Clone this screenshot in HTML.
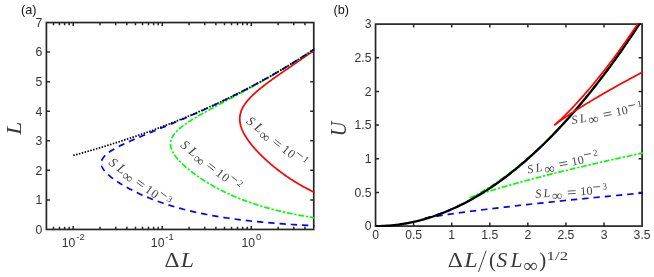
<!DOCTYPE html>
<html><head><meta charset="utf-8"><title>chart</title>
<style>html,body{margin:0;padding:0;background:#fff;}svg{display:block;will-change:transform;}</style></head>
<body><svg width="654" height="277" viewBox="0 0 654 277">
<rect width="654" height="277" fill="#fff"/>
<defs><clipPath id="ca"><rect x="45.55" y="21.7" width="269.05" height="208.59999999999997"/></clipPath><clipPath id="cb"><rect x="374.7" y="23.25" width="268.25" height="203.7"/></clipPath></defs>
<path d="M53.49,229.45v-2.60 M53.49,22.55v2.60 M59.45,229.45v-2.60 M59.45,22.55v2.60 M64.61,229.45v-2.60 M64.61,22.55v2.60 M69.17,229.45v-2.60 M69.17,22.55v2.60 M73.24,229.45v-3.50 M73.24,22.55v3.50 M100.04,229.45v-2.60 M100.04,22.55v2.60 M115.72,229.45v-2.60 M115.72,22.55v2.60 M126.84,229.45v-2.60 M126.84,22.55v2.60 M135.47,229.45v-2.60 M135.47,22.55v2.60 M142.52,229.45v-2.60 M142.52,22.55v2.60 M148.48,229.45v-2.60 M148.48,22.55v2.60 M153.64,229.45v-2.60 M153.64,22.55v2.60 M158.20,229.45v-2.60 M158.20,22.55v2.60 M162.27,229.45v-3.50 M162.27,22.55v3.50 M189.07,229.45v-2.60 M189.07,22.55v2.60 M204.75,229.45v-2.60 M204.75,22.55v2.60 M215.87,229.45v-2.60 M215.87,22.55v2.60 M224.50,229.45v-2.60 M224.50,22.55v2.60 M231.55,229.45v-2.60 M231.55,22.55v2.60 M237.51,229.45v-2.60 M237.51,22.55v2.60 M242.67,229.45v-2.60 M242.67,22.55v2.60 M247.23,229.45v-2.60 M247.23,22.55v2.60 M251.30,229.45v-3.50 M251.30,22.55v3.50 M278.10,229.45v-2.60 M278.10,22.55v2.60 M293.78,229.45v-2.60 M293.78,22.55v2.60 M304.90,229.45v-2.60 M304.90,22.55v2.60 M46.40,199.89h3.50 M313.75,199.89h-3.50 M46.40,170.34h3.50 M313.75,170.34h-3.50 M46.40,140.78h3.50 M313.75,140.78h-3.50 M46.40,111.22h3.50 M313.75,111.22h-3.50 M46.40,81.66h3.50 M313.75,81.66h-3.50 M46.40,52.11h3.50 M313.75,52.11h-3.50 M413.63,226.10v-3.50 M413.63,24.10v3.50 M451.71,226.10v-3.50 M451.71,24.10v3.50 M489.79,226.10v-3.50 M489.79,24.10v3.50 M527.86,226.10v-3.50 M527.86,24.10v3.50 M565.94,226.10v-3.50 M565.94,24.10v3.50 M604.02,226.10v-3.50 M604.02,24.10v3.50 M375.55,192.43h3.50 M642.10,192.43h-3.50 M375.55,158.77h3.50 M642.10,158.77h-3.50 M375.55,125.10h3.50 M642.10,125.10h-3.50 M375.55,91.43h3.50 M642.10,91.43h-3.50 M375.55,57.77h3.50 M642.10,57.77h-3.50" stroke="#262626" stroke-width="1.5" fill="none"/>
<rect x="46.4" y="22.55" width="267.35" height="206.89999999999998" fill="none" stroke="#262626" stroke-width="1.7"/>
<rect x="375.55" y="24.1" width="266.55" height="202.0" fill="none" stroke="#262626" stroke-width="1.7"/>
<g clip-path="url(#ca)" fill="none" stroke-width="1.7">
<path d="M331.01,38.30 L330.07,38.98 L329.13,39.67 L328.18,40.35 L327.23,41.04 L326.28,41.72 L325.33,42.41 L324.38,43.09 L323.42,43.78 L322.46,44.46 L321.50,45.15 L320.54,45.83 L319.57,46.52 L318.61,47.20 L317.64,47.88 L316.67,48.57 L315.69,49.25 L314.72,49.94 L313.74,50.62 L312.76,51.31 L311.78,51.99 L310.80,52.68 L309.82,53.36 L308.83,54.05 L307.84,54.73 L306.85,55.42 L305.86,56.10 L304.87,56.79 L303.88,57.47 L302.89,58.16 L301.89,58.84 L300.90,59.52 L299.90,60.21 L298.90,60.89 L297.91,61.58 L296.91,62.26 L295.91,62.95 L294.91,63.63 L293.91,64.32 L292.92,65.00 L291.92,65.69 L290.92,66.37 L289.92,67.06 L288.93,67.74 L287.93,68.43 L286.94,69.11 L285.94,69.80 L284.95,70.48 L283.96,71.17 L282.97,71.85 L281.99,72.53 L281.00,73.22 L280.02,73.90 L279.04,74.59 L278.07,75.27 L277.10,75.96 L276.13,76.64 L275.17,77.33 L274.21,78.01 L273.25,78.70 L272.31,79.38 L271.36,80.07 L270.42,80.75 L269.49,81.44 L268.57,82.12 L267.65,82.81 L266.74,83.49 L265.83,84.17 L264.94,84.86 L264.05,85.54 L263.17,86.23 L262.30,86.91 L261.44,87.60 L260.59,88.28 L259.75,88.97 L258.93,89.65 L258.11,90.34 L257.31,91.02 L256.52,91.71 L255.74,92.39 L254.97,93.08 L254.22,93.76 L253.49,94.45 L252.77,95.13 L252.06,95.82 L251.37,96.50 L250.70,97.18 L250.04,97.87 L249.41,98.55 L248.78,99.24 L248.18,99.92 L247.60,100.61 L247.03,101.29 L246.48,101.98 L245.96,102.66 L245.45,103.35 L244.97,104.03 L244.50,104.72 L244.06,105.40 L243.63,106.09 L243.23,106.77 L242.85,107.46 L242.49,108.14 L242.16,108.82 L241.84,109.51 L241.55,110.19 L241.28,110.88 L241.03,111.56 L240.81,112.25 L240.60,112.93 L240.42,113.62 L240.26,114.30 L240.13,114.99 L240.01,115.67 L239.92,116.36 L239.85,117.04 L239.80,117.73 L239.77,118.41 L239.76,119.10 L239.78,119.78 L239.81,120.47 L239.87,121.15 L239.94,121.83 L240.03,122.52 L240.15,123.20 L240.28,123.89 L240.43,124.57 L240.60,125.26 L240.78,125.94 L240.99,126.63 L241.21,127.31 L241.45,128.00 L241.70,128.68 L241.97,129.37 L242.26,130.05 L242.56,130.74 L242.88,131.42 L243.21,132.11 L243.55,132.79 L243.91,133.47 L244.29,134.16 L244.67,134.84 L245.07,135.53 L245.48,136.21 L245.91,136.90 L246.35,137.58 L246.79,138.27 L247.25,138.95 L247.73,139.64 L248.21,140.32 L248.70,141.01 L249.20,141.69 L249.72,142.38 L250.24,143.06 L250.78,143.75 L251.32,144.43 L251.87,145.12 L252.44,145.80 L253.01,146.48 L253.59,147.17 L254.18,147.85 L254.78,148.54 L255.39,149.22 L256.01,149.91 L256.63,150.59 L257.27,151.28 L257.91,151.96 L258.56,152.65 L259.22,153.33 L259.89,154.02 L260.57,154.70 L261.26,155.39 L261.95,156.07 L262.65,156.76 L263.36,157.44 L264.08,158.12 L264.81,158.81 L265.55,159.49 L266.29,160.18 L267.05,160.86 L267.81,161.55 L268.58,162.23 L269.36,162.92 L270.15,163.60 L270.95,164.29 L271.76,164.97 L272.58,165.66 L273.41,166.34 L274.24,167.03 L275.09,167.71 L275.95,168.40 L276.81,169.08 L277.69,169.77 L278.58,170.45 L279.48,171.13 L280.39,171.82 L281.31,172.50 L282.24,173.19 L283.18,173.87 L284.14,174.56 L285.11,175.24 L286.09,175.93 L287.08,176.61 L288.09,177.30 L289.11,177.98 L290.15,178.67 L291.19,179.35 L292.26,180.04 L293.34,180.72 L294.43,181.41 L295.54,182.09 L296.66,182.77 L297.81,183.46 L298.97,184.14 L300.14,184.83 L301.34,185.51 L302.55,186.20 L303.79,186.88 L305.04,187.57 L306.31,188.25 L307.61,188.94 L308.93,189.62 L310.27,190.31 L311.63,190.99 L313.02,191.68 L314.44,192.36 L315.88,193.05 L317.35,193.73 L318.84,194.42 L320.37,195.10 L321.93,195.78 L323.52,196.47 L325.14,197.15 L326.80,197.84 L328.49,198.52 L330.22,199.21" stroke="#ff0000"/>
<path d="M331.11,37.61 L330.15,38.30 L329.18,38.98 L328.21,39.67 L327.23,40.35 L326.25,41.04 L325.27,41.72 L324.29,42.41 L323.30,43.09 L322.31,43.78 L321.31,44.46 L320.31,45.15 L319.31,45.83 L318.30,46.52 L317.29,47.20 L316.28,47.88 L315.26,48.57 L314.24,49.25 L313.21,49.94 L312.19,50.62 L311.15,51.31 L310.12,51.99 L309.08,52.68 L308.04,53.36 L306.99,54.05 L305.94,54.73 L304.88,55.42 L303.82,56.10 L302.76,56.79 L301.69,57.47 L300.62,58.16 L299.55,58.84 L298.47,59.52 L297.39,60.21 L296.30,60.89 L295.21,61.58 L294.12,62.26 L293.02,62.95 L291.91,63.63 L290.81,64.32 L289.70,65.00 L288.58,65.69 L287.46,66.37 L286.34,67.06 L285.21,67.74 L284.08,68.43 L282.94,69.11 L281.80,69.80 L280.66,70.48 L279.51,71.17 L278.36,71.85 L277.20,72.53 L276.04,73.22 L274.88,73.90 L273.71,74.59 L272.53,75.27 L271.36,75.96 L270.17,76.64 L268.99,77.33 L267.80,78.01 L266.60,78.70 L265.40,79.38 L264.20,80.07 L263.00,80.75 L261.79,81.44 L260.57,82.12 L259.35,82.81 L258.13,83.49 L256.90,84.17 L255.67,84.86 L254.44,85.54 L253.20,86.23 L251.96,86.91 L250.71,87.60 L249.47,88.28 L248.21,88.97 L246.96,89.65 L245.70,90.34 L244.44,91.02 L243.17,91.71 L241.91,92.39 L240.64,93.08 L239.36,93.76 L238.09,94.45 L236.81,95.13 L235.53,95.82 L234.25,96.50 L232.96,97.18 L231.68,97.87 L230.39,98.55 L229.10,99.24 L227.81,99.92 L226.53,100.61 L225.24,101.29 L223.95,101.98 L222.66,102.66 L221.37,103.35 L220.08,104.03 L218.79,104.72 L217.51,105.40 L216.23,106.09 L214.95,106.77 L213.67,107.46 L212.40,108.14 L211.13,108.82 L209.87,109.51 L208.61,110.19 L207.36,110.88 L206.11,111.56 L204.87,112.25 L203.64,112.93 L202.42,113.62 L201.21,114.30 L200.00,114.99 L198.81,115.67 L197.63,116.36 L196.46,117.04 L195.31,117.73 L194.17,118.41 L193.05,119.10 L191.94,119.78 L190.85,120.47 L189.77,121.15 L188.72,121.83 L187.69,122.52 L186.68,123.20 L185.69,123.89 L184.72,124.57 L183.78,125.26 L182.87,125.94 L181.98,126.63 L181.12,127.31 L180.28,128.00 L179.48,128.68 L178.71,129.37 L177.97,130.05 L177.26,130.74 L176.58,131.42 L175.94,132.11 L175.33,132.79 L174.75,133.47 L174.21,134.16 L173.71,134.84 L173.24,135.53 L172.81,136.21 L172.42,136.90 L172.06,137.58 L171.74,138.27 L171.46,138.95 L171.22,139.64 L171.01,140.32 L170.84,141.01 L170.71,141.69 L170.61,142.38 L170.55,143.06 L170.52,143.75 L170.53,144.43 L170.57,145.12 L170.65,145.80 L170.75,146.48 L170.90,147.17 L171.07,147.85 L171.27,148.54 L171.51,149.22 L171.77,149.91 L172.06,150.59 L172.38,151.28 L172.73,151.96 L173.10,152.65 L173.50,153.33 L173.92,154.02 L174.37,154.70 L174.84,155.39 L175.33,156.07 L175.85,156.76 L176.38,157.44 L176.94,158.12 L177.51,158.81 L178.11,159.49 L178.72,160.18 L179.35,160.86 L180.00,161.55 L180.67,162.23 L181.35,162.92 L182.05,163.60 L182.77,164.29 L183.50,164.97 L184.25,165.66 L185.01,166.34 L185.79,167.03 L186.58,167.71 L187.39,168.40 L188.21,169.08 L189.05,169.77 L189.90,170.45 L190.76,171.13 L191.64,171.82 L192.53,172.50 L193.44,173.19 L194.36,173.87 L195.29,174.56 L196.24,175.24 L197.21,175.93 L198.18,176.61 L199.18,177.30 L200.18,177.98 L201.21,178.67 L202.25,179.35 L203.30,180.04 L204.37,180.72 L205.46,181.41 L206.56,182.09 L207.68,182.77 L208.81,183.46 L209.97,184.14 L211.14,184.83 L212.33,185.51 L213.54,186.20 L214.78,186.88 L216.03,187.57 L217.30,188.25 L218.59,188.94 L219.91,189.62 L221.25,190.31 L222.61,190.99 L224.00,191.68 L225.41,192.36 L226.85,193.05 L228.32,193.73 L229.82,194.42 L231.34,195.10 L232.90,195.78 L234.49,196.47 L236.11,197.15 L237.77,197.84 L239.46,198.52 L241.19,199.21 L242.96,199.89 L245.89,200.99 L248.83,202.05 L251.76,203.07 L254.69,204.05 L257.62,205.00 L260.56,205.91 L263.49,206.78 L266.42,207.63 L269.35,208.44 L272.29,209.22 L275.22,209.97 L278.15,210.70 L281.08,211.40 L284.01,212.07 L286.95,212.71 L289.88,213.34 L292.81,213.94 L295.74,214.51 L298.68,215.07 L301.61,215.61 L304.54,216.12 L307.47,216.62 L310.41,217.09 L313.34,217.55 L316.27,218.00 L319.20,218.42 L322.14,218.83 L325.07,219.23 L328.00,219.61 L330.93,219.97" stroke="#00ff00" stroke-dasharray="5.8 1.8 2.3 1.8" stroke-dashoffset="3.5"/>
<path d="M331.03,37.61 L330.06,38.30 L329.09,38.98 L328.11,39.67 L327.14,40.35 L326.15,41.04 L325.17,41.72 L324.18,42.41 L323.19,43.09 L322.19,43.78 L321.19,44.46 L320.19,45.15 L319.18,45.83 L318.17,46.52 L317.16,47.20 L316.14,47.88 L315.12,48.57 L314.09,49.25 L313.06,49.94 L312.03,50.62 L310.99,51.31 L309.95,51.99 L308.90,52.68 L307.85,53.36 L306.80,54.05 L305.74,54.73 L304.68,55.42 L303.61,56.10 L302.54,56.79 L301.47,57.47 L300.39,58.16 L299.31,58.84 L298.22,59.52 L297.13,60.21 L296.03,60.89 L294.93,61.58 L293.82,62.26 L292.72,62.95 L291.60,63.63 L290.48,64.32 L289.36,65.00 L288.23,65.69 L287.10,66.37 L285.96,67.06 L284.82,67.74 L283.67,68.43 L282.52,69.11 L281.36,69.80 L280.20,70.48 L279.04,71.17 L277.87,71.85 L276.69,72.53 L275.51,73.22 L274.32,73.90 L273.13,74.59 L271.93,75.27 L270.73,75.96 L269.52,76.64 L268.31,77.33 L267.09,78.01 L265.87,78.70 L264.64,79.38 L263.41,80.07 L262.17,80.75 L260.92,81.44 L259.67,82.12 L258.42,82.81 L257.15,83.49 L255.89,84.17 L254.61,84.86 L253.33,85.54 L252.05,86.23 L250.76,86.91 L249.46,87.60 L248.15,88.28 L246.85,88.97 L245.53,89.65 L244.21,90.34 L242.88,91.02 L241.55,91.71 L240.21,92.39 L238.86,93.08 L237.51,93.76 L236.15,94.45 L234.78,95.13 L233.41,95.82 L232.03,96.50 L230.64,97.18 L229.25,97.87 L227.85,98.55 L226.45,99.24 L225.04,99.92 L223.62,100.61 L222.19,101.29 L220.76,101.98 L219.32,102.66 L217.87,103.35 L216.42,104.03 L214.96,104.72 L213.49,105.40 L212.02,106.09 L210.54,106.77 L209.05,107.46 L207.55,108.14 L206.05,108.82 L204.54,109.51 L203.03,110.19 L201.50,110.88 L199.97,111.56 L198.44,112.25 L196.89,112.93 L195.34,113.62 L193.79,114.30 L192.22,114.99 L190.65,115.67 L189.07,116.36 L187.49,117.04 L185.90,117.73 L184.30,118.41 L182.70,119.10 L181.09,119.78 L179.48,120.47 L177.86,121.15 L176.23,121.83 L174.60,122.52 L172.96,123.20 L171.32,123.89 L169.68,124.57 L168.03,125.26 L166.38,125.94 L164.72,126.63 L163.06,127.31 L161.40,128.00 L159.74,128.68 L158.07,129.37 L156.41,130.05 L154.74,130.74 L153.08,131.42 L151.41,132.11 L149.75,132.79 L148.09,133.47 L146.44,134.16 L144.79,134.84 L143.14,135.53 L141.50,136.21 L139.88,136.90 L138.26,137.58 L136.65,138.27 L135.05,138.95 L133.47,139.64 L131.90,140.32 L130.35,141.01 L128.82,141.69 L127.30,142.38 L125.82,143.06 L124.35,143.75 L122.91,144.43 L121.50,145.12 L120.12,145.80 L118.78,146.48 L117.47,147.17 L116.19,147.85 L114.96,148.54 L113.77,149.22 L112.62,149.91 L111.52,150.59 L110.46,151.28 L109.46,151.96 L108.51,152.65 L107.61,153.33 L106.76,154.02 L105.98,154.70 L105.25,155.39 L104.58,156.07 L103.98,156.76 L103.43,157.44 L102.95,158.12 L102.52,158.81 L102.16,159.49 L101.86,160.18 L101.63,160.86 L101.45,161.55 L101.34,162.23 L101.28,162.92 L101.28,163.60 L101.34,164.29 L101.46,164.97 L101.63,165.66 L101.85,166.34 L102.12,167.03 L102.45,167.71 L102.82,168.40 L103.24,169.08 L103.70,169.77 L104.20,170.45 L104.75,171.13 L105.34,171.82 L105.96,172.50 L106.62,173.19 L107.32,173.87 L108.05,174.56 L108.81,175.24 L109.61,175.93 L110.43,176.61 L111.29,177.30 L112.17,177.98 L113.08,178.67 L114.01,179.35 L114.97,180.04 L115.96,180.72 L116.97,181.41 L118.01,182.09 L119.07,182.77 L120.16,183.46 L121.26,184.14 L122.40,184.83 L123.55,185.51 L124.73,186.20 L125.93,186.88 L127.16,187.57 L128.41,188.25 L129.68,188.94 L130.98,189.62 L132.31,190.31 L133.66,190.99 L135.03,191.68 L136.44,192.36 L137.87,193.05 L139.33,193.73 L140.82,194.42 L142.34,195.10 L143.89,195.78 L145.48,196.47 L147.10,197.15 L148.75,197.84 L150.44,198.52 L152.17,199.21 L153.94,199.89 L156.87,200.99 L159.80,202.05 L162.73,203.07 L165.66,204.05 L168.59,205.00 L171.53,205.91 L174.46,206.78 L177.39,207.63 L180.32,208.44 L183.26,209.22 L186.19,209.97 L189.12,210.70 L192.05,211.40 L194.98,212.07 L197.92,212.71 L200.85,213.34 L203.78,213.94 L206.71,214.51 L209.65,215.07 L212.58,215.61 L215.51,216.12 L218.44,216.62 L221.38,217.09 L224.31,217.55 L227.24,218.00 L230.17,218.42 L233.11,218.83 L236.04,219.23 L238.97,219.61 L241.90,219.97 L244.84,220.33 L247.77,220.67 L250.70,220.99 L253.63,221.31 L256.57,221.61 L259.50,221.90 L262.43,222.18 L265.36,222.45 L268.30,222.71 L271.23,222.96 L274.16,223.21 L277.09,223.44 L280.03,223.66 L282.96,223.88 L285.89,224.09 L288.82,224.28 L291.75,224.48 L294.69,224.66 L297.62,224.84 L300.55,225.01 L303.48,225.18 L306.42,225.34 L309.35,225.49 L312.28,225.64 L315.21,225.78 L318.15,225.91 L321.08,226.05 L324.01,226.17 L326.94,226.29 L329.88,226.41" stroke="#0000ff" stroke-dasharray="6.3 5" stroke-dashoffset="4.4"/>
<path d="M73.24,155.44 L75.26,154.88 L77.28,154.33 L79.30,153.76 L81.32,153.20 L83.34,152.62 L85.36,152.05 L87.37,151.47 L89.39,150.89 L91.41,150.30 L93.43,149.70 L95.45,149.11 L97.47,148.51 L99.49,147.90 L101.51,147.29 L103.53,146.67 L105.55,146.05 L107.57,145.43 L109.59,144.80 L111.61,144.17 L113.62,143.53 L115.64,142.88 L117.66,142.24 L119.68,141.58 L121.70,140.93 L123.72,140.26 L125.74,139.59 L127.76,138.92 L129.78,138.24 L131.80,137.56 L133.82,136.87 L135.84,136.18 L137.86,135.48 L139.87,134.78 L141.89,134.07 L143.91,133.35 L145.93,132.63 L147.95,131.91 L149.97,131.18 L151.99,130.44 L154.01,129.70 L156.03,128.95 L158.05,128.20 L160.07,127.44 L162.09,126.68 L164.11,125.91 L166.12,125.14 L168.14,124.35 L170.16,123.57 L172.18,122.77 L174.20,121.98 L176.22,121.17 L178.24,120.36 L180.26,119.54 L182.28,118.72 L184.30,117.89 L186.32,117.06 L188.34,116.21 L190.36,115.37 L192.38,114.51 L194.39,113.65 L196.41,112.78 L198.43,111.91 L200.45,111.03 L202.47,110.14 L204.49,109.25 L206.51,108.35 L208.53,107.44 L210.55,106.53 L212.57,105.61 L214.59,104.68 L216.61,103.75 L218.63,102.81 L220.64,101.86 L222.66,100.90 L224.68,99.94 L226.70,98.97 L228.72,97.99 L230.74,97.01 L232.76,96.02 L234.78,95.02 L236.80,94.01 L238.82,93.00 L240.84,91.97 L242.86,90.94 L244.88,89.91 L246.89,88.86 L248.91,87.81 L250.93,86.75 L252.95,85.68 L254.97,84.60 L256.99,83.52 L259.01,82.43 L261.03,81.32 L263.05,80.22 L265.07,79.10 L267.09,77.97 L269.11,76.84 L271.13,75.70 L273.14,74.54 L275.16,73.38 L277.18,72.21 L279.20,71.04 L281.22,69.85 L283.24,68.66 L285.26,67.45 L287.28,66.24 L289.30,65.02 L291.32,63.79 L293.34,62.54 L295.36,61.30 L297.38,60.04 L299.39,58.77 L301.41,57.49 L303.43,56.20 L305.45,54.90 L307.47,53.60 L309.49,52.28 L311.51,50.95 L313.53,49.62" stroke="#000" stroke-dasharray="1.5 1.45"/>
</g>
<g clip-path="url(#cb)" fill="none" stroke-width="1.7">
<path d="M425.28,218.29 L425.29,218.28 L425.31,218.28 L425.35,218.27 L425.40,218.26 L425.46,218.24 L425.53,218.23 L425.62,218.20 L425.72,218.18 L425.83,218.15 L425.95,218.12 L426.08,218.09 L426.23,218.06 L426.39,218.02 L426.56,217.97 L426.74,217.93 L426.93,217.88 L427.13,217.82 L427.35,217.77 L427.58,217.71 L427.81,217.64 L428.06,217.57 L428.33,217.50 L428.60,217.43 L428.88,217.35 L429.18,217.27 L429.49,217.18 L429.80,217.09 L430.14,216.99 L430.48,216.89 L430.83,216.79 L431.20,216.68 L431.57,216.56 L431.96,216.45 L432.36,216.32 L432.78,216.19 L433.20,216.06 L433.64,215.92 L434.09,215.78 L434.55,215.63 L435.02,215.48 L435.50,215.32 L436.00,215.15 L436.51,214.98 L437.04,214.80 L437.57,214.62 L438.12,214.43 L438.68,214.23 L439.26,214.02 L439.85,213.81 L440.45,213.59 L441.07,213.37 L441.70,213.13 L442.34,212.89 L443.00,212.64 L443.67,212.38 L444.36,212.12 L445.06,211.84 L445.78,211.56 L446.51,211.26 L447.26,210.96 L448.03,210.64 L448.81,210.32 L449.60,209.98 L450.42,209.64 L451.25,209.28 L452.10,208.91 L452.97,208.53 L453.85,208.13 L454.76,207.72 L455.68,207.30 L456.62,206.87 L457.58,206.42 L458.56,205.95 L459.56,205.47 L460.59,204.97 L461.63,204.46 L462.70,203.93 L463.78,203.38 L464.90,202.81 L466.03,202.22 L467.19,201.61 L468.37,200.98 L469.58,200.33 L470.81,199.66 L472.08,198.96 L473.36,198.23 L474.68,197.49 L476.02,196.71 L477.40,195.91 L478.80,195.07 L480.23,194.21 L481.70,193.32 L483.20,192.39 L484.73,191.43 L486.29,190.43 L487.89,189.40 L489.53,188.33 L491.21,187.21 L492.92,186.06 L494.67,184.86 L496.46,183.61 L498.30,182.31 L500.18,180.97 L502.10,179.57 L504.07,178.11 L506.08,176.60 L508.15,175.02 L510.26,173.38 L512.43,171.68 L514.65,169.90 L516.93,168.05 L519.26,166.12 L521.65,164.11 L524.10,162.02 L526.61,159.83 L529.19,157.55 L531.84,155.17 L534.56,152.69 L537.35,150.09 L540.21,147.38 L543.15,144.55 L546.17,141.59 L549.27,138.49 L552.46,135.24 L555.74,131.85 L559.11,128.29 L562.57,124.56 L566.14,120.65 L569.81,116.56 L573.59,112.26 L577.47,107.75 L581.48,103.01 L585.60,98.03 L589.85,92.80 L594.23,87.30 L598.75,81.50 L603.40,75.41 L608.21,68.99 L613.17,62.22 L618.29,55.08 L623.57,47.55 L629.03,39.60 L634.68,31.21 L640.51,22.33 L646.55,12.95 L652.79,3.01" stroke="#0000ff" stroke-dasharray="6.3 5"/>
<path d="M425.28,218.29 L425.28,218.29 L425.29,218.28 L425.32,218.28 L425.36,218.27 L425.41,218.26 L425.48,218.24 L425.56,218.22 L425.65,218.21 L425.76,218.18 L425.88,218.16 L426.01,218.13 L426.16,218.10 L426.32,218.07 L426.50,218.03 L426.69,217.99 L426.90,217.95 L427.12,217.91 L427.36,217.86 L427.61,217.81 L427.88,217.76 L428.17,217.71 L428.47,217.65 L428.78,217.59 L429.11,217.53 L429.46,217.46 L429.83,217.40 L430.21,217.33 L430.61,217.26 L431.03,217.18 L431.47,217.10 L431.92,217.02 L432.39,216.94 L432.88,216.86 L433.39,216.77 L433.92,216.68 L434.47,216.58 L435.04,216.49 L435.63,216.39 L436.23,216.29 L436.86,216.19 L437.51,216.08 L438.18,215.97 L438.88,215.86 L439.59,215.74 L440.33,215.63 L441.08,215.51 L441.86,215.39 L442.67,215.26 L443.50,215.13 L444.35,215.00 L445.22,214.87 L446.12,214.73 L447.05,214.59 L448.00,214.45 L448.98,214.31 L449.98,214.16 L451.01,214.01 L452.06,213.86 L453.15,213.70 L454.26,213.54 L455.40,213.38 L456.56,213.22 L457.76,213.05 L458.99,212.88 L460.24,212.70 L461.53,212.53 L462.85,212.35 L464.19,212.16 L465.57,211.98 L466.99,211.79 L468.43,211.60 L469.91,211.40 L471.42,211.20 L472.97,211.00 L474.55,210.80 L476.17,210.59 L477.82,210.38 L479.51,210.16 L481.24,209.95 L483.00,209.73 L484.80,209.50 L486.64,209.27 L488.52,209.04 L490.44,208.81 L492.40,208.57 L494.40,208.33 L496.44,208.08 L498.53,207.83 L500.65,207.58 L502.83,207.33 L505.04,207.07 L507.30,206.81 L509.61,206.54 L511.96,206.27 L514.36,206.00 L516.80,205.72 L519.30,205.44 L521.84,205.15 L524.43,204.86 L527.08,204.57 L529.77,204.27 L532.52,203.97 L535.32,203.67 L538.17,203.36 L541.08,203.05 L544.04,202.73 L547.05,202.41 L550.13,202.09 L553.26,201.76 L556.45,201.42 L559.70,201.09 L563.01,200.75 L566.37,200.40 L569.80,200.05 L573.30,199.70 L576.85,199.34 L580.47,198.98 L584.16,198.61 L587.91,198.24 L591.73,197.86 L595.61,197.48 L599.57,197.09 L603.59,196.70 L607.69,196.31 L611.86,195.91 L616.10,195.51 L620.41,195.10 L624.80,194.68 L629.26,194.27 L633.80,193.84 L638.42,193.42 L643.12,192.98 L647.90,192.54 L652.75,192.10" stroke="#0000ff" stroke-dasharray="6.3 5" stroke-dashoffset="0"/>
<path d="M469.82,198.02 L469.82,198.02 L469.83,198.01 L469.86,198.00 L469.91,197.98 L469.97,197.95 L470.04,197.92 L470.12,197.88 L470.22,197.84 L470.34,197.79 L470.47,197.73 L470.61,197.66 L470.76,197.59 L470.93,197.51 L471.11,197.43 L471.31,197.34 L471.52,197.24 L471.74,197.13 L471.98,197.02 L472.23,196.90 L472.49,196.77 L472.77,196.64 L473.05,196.50 L473.36,196.35 L473.67,196.19 L474.00,196.03 L474.34,195.85 L474.70,195.67 L475.06,195.48 L475.44,195.29 L475.84,195.08 L476.24,194.87 L476.66,194.65 L477.10,194.41 L477.54,194.18 L478.00,193.93 L478.47,193.67 L478.96,193.40 L479.46,193.13 L479.97,192.84 L480.49,192.55 L481.03,192.24 L481.58,191.93 L482.15,191.61 L482.72,191.27 L483.32,190.93 L483.92,190.57 L484.54,190.20 L485.17,189.83 L485.82,189.44 L486.48,189.04 L487.15,188.62 L487.84,188.20 L488.54,187.76 L489.25,187.32 L489.98,186.86 L490.73,186.38 L491.49,185.90 L492.26,185.40 L493.05,184.88 L493.85,184.35 L494.67,183.81 L495.50,183.26 L496.34,182.68 L497.21,182.10 L498.08,181.50 L498.98,180.88 L499.89,180.24 L500.81,179.59 L501.75,178.93 L502.71,178.24 L503.68,177.54 L504.67,176.82 L505.68,176.08 L506.70,175.32 L507.74,174.54 L508.80,173.75 L509.88,172.93 L510.97,172.09 L512.08,171.23 L513.21,170.34 L514.36,169.44 L515.53,168.51 L516.71,167.56 L517.92,166.58 L519.14,165.58 L520.39,164.55 L521.65,163.50 L522.94,162.42 L524.24,161.31 L525.57,160.18 L526.92,159.01 L528.29,157.81 L529.68,156.59 L531.10,155.33 L532.53,154.04 L533.99,152.71 L535.48,151.35 L536.99,149.96 L538.52,148.53 L540.08,147.06 L541.66,145.55 L543.27,144.01 L544.90,142.42 L546.56,140.79 L548.25,139.11 L549.97,137.40 L551.71,135.63 L553.48,133.82 L555.29,131.96 L557.12,130.05 L558.98,128.08 L560.87,126.07 L562.80,124.00 L564.75,121.87 L566.74,119.68 L568.76,117.43 L570.82,115.12 L572.91,112.75 L575.04,110.30 L577.20,107.79 L579.41,105.21 L581.64,102.55 L583.92,99.82 L586.24,97.01 L588.59,94.12 L590.99,91.14 L593.43,88.08 L595.92,84.93 L598.45,81.68 L601.02,78.34 L603.64,74.90 L606.30,71.36 L609.02,67.71 L611.78,63.94 L614.59,60.07 L617.46,56.07 L620.38,51.96 L623.35,47.71 L626.38,43.33 L629.46,38.82 L632.61,34.16 L635.81,29.36 L639.07,24.40 L642.40,19.28 L645.79,14.00 L649.25,8.55 L652.77,2.92 L656.37,-2.90" stroke="#00ff00" stroke-dasharray="5.8 1.8 2.3 1.8"/>
<path d="M469.82,198.02 L469.83,198.01 L469.86,198.00 L469.90,197.98 L469.96,197.96 L470.03,197.93 L470.12,197.89 L470.22,197.85 L470.34,197.80 L470.47,197.75 L470.62,197.69 L470.79,197.62 L470.97,197.55 L471.17,197.48 L471.38,197.39 L471.61,197.30 L471.85,197.21 L472.11,197.11 L472.39,197.01 L472.69,196.89 L473.00,196.78 L473.33,196.65 L473.67,196.53 L474.04,196.39 L474.42,196.25 L474.82,196.11 L475.23,195.96 L475.67,195.80 L476.12,195.64 L476.60,195.47 L477.09,195.30 L477.60,195.12 L478.12,194.94 L478.67,194.75 L479.24,194.55 L479.83,194.35 L480.43,194.15 L481.06,193.93 L481.71,193.72 L482.38,193.49 L483.07,193.26 L483.78,193.03 L484.51,192.79 L485.26,192.54 L486.03,192.29 L486.83,192.04 L487.65,191.77 L488.49,191.51 L489.35,191.23 L490.24,190.95 L491.15,190.67 L492.09,190.38 L493.04,190.08 L494.02,189.78 L495.03,189.47 L496.06,189.16 L497.12,188.84 L498.20,188.51 L499.30,188.18 L500.43,187.84 L501.59,187.50 L502.77,187.15 L503.99,186.80 L505.22,186.43 L506.49,186.07 L507.78,185.70 L509.10,185.32 L510.45,184.93 L511.83,184.54 L513.23,184.15 L514.67,183.74 L516.14,183.33 L517.63,182.92 L519.16,182.50 L520.71,182.07 L522.30,181.64 L523.92,181.20 L525.57,180.75 L527.25,180.30 L528.97,179.84 L530.72,179.37 L532.50,178.90 L534.31,178.42 L536.16,177.94 L538.05,177.45 L539.97,176.95 L541.92,176.45 L543.91,175.94 L545.94,175.42 L548.00,174.90 L550.10,174.37 L552.24,173.83 L554.41,173.28 L556.63,172.73 L558.88,172.18 L561.17,171.61 L563.50,171.04 L565.87,170.46 L568.29,169.88 L570.74,169.28 L573.24,168.68 L575.77,168.08 L578.35,167.46 L580.98,166.84 L583.64,166.22 L586.35,165.58 L589.11,164.94 L591.91,164.29 L594.76,163.63 L597.65,162.97 L600.59,162.29 L603.57,161.61 L606.61,160.93 L609.69,160.23 L612.82,159.53 L616.00,158.82 L619.23,158.10 L622.52,157.38 L625.85,156.64 L629.23,155.90 L632.67,155.15 L636.16,154.39 L639.71,153.63 L643.30,152.86 L646.96,152.07 L650.66,151.28 L654.43,150.49" stroke="#00ff00" stroke-dasharray="5.8 1.8 2.3 1.8" stroke-dashoffset="1.4"/>
<path d="M375.55,226.10 L377.85,226.08 L380.16,226.04 L382.46,225.96 L384.77,225.85 L387.07,225.71 L389.37,225.55 L391.68,225.35 L393.98,225.11 L396.29,224.85 L398.59,224.56 L400.89,224.24 L403.20,223.88 L405.50,223.50 L407.80,223.08 L410.11,222.63 L412.41,222.16 L414.72,221.65 L417.02,221.11 L419.32,220.54 L421.63,219.94 L423.93,219.31 L426.24,218.64 L428.54,217.95 L430.84,217.23 L433.15,216.47 L435.45,215.69 L437.76,214.87 L440.06,214.02 L442.36,213.14 L444.67,212.23 L446.97,211.30 L449.28,210.32 L451.58,209.32 L453.88,208.29 L456.19,207.23 L458.49,206.13 L460.79,205.01 L463.10,203.85 L465.40,202.67 L467.71,201.45 L470.01,200.20 L472.31,198.92 L474.62,197.61 L476.92,196.27 L479.23,194.90 L481.53,193.50 L483.83,192.07 L486.14,190.61 L488.44,189.11 L490.75,187.59 L493.05,186.03 L495.35,184.44 L497.66,182.83 L499.96,181.18 L502.27,179.50 L504.57,177.79 L506.87,176.05 L509.18,174.28 L511.48,172.47 L513.78,170.64 L516.09,168.78 L518.39,166.88 L520.70,164.95 L523.00,163.00 L525.30,161.01 L527.61,158.99 L529.91,156.94 L532.22,154.86 L534.52,152.75 L536.82,150.61 L539.13,148.44 L541.43,146.24 L543.74,144.00 L546.04,141.74 L548.34,139.44 L550.65,137.12 L552.95,134.76 L555.26,132.37 L557.56,129.95 L559.86,127.50 L562.17,125.02 L564.47,122.51 L566.77,119.97 L569.08,117.40 L571.38,114.79 L573.69,112.16 L575.99,109.49 L578.29,106.80 L580.60,104.07 L582.90,101.31 L585.21,98.53 L587.51,95.71 L589.81,92.86 L592.12,89.98 L594.42,87.06 L596.73,84.12 L599.03,81.15 L601.33,78.14 L603.64,75.11 L605.94,72.04 L608.25,68.95 L610.55,65.82 L612.85,62.66 L615.16,59.47 L617.46,56.25 L619.76,53.00 L622.07,49.72 L624.37,46.41 L626.68,43.06 L628.98,39.69 L631.28,36.29 L633.59,32.85 L635.89,29.38 L638.20,25.89 L640.50,22.36 L642.80,18.80 L645.11,15.21 L647.41,11.59 L649.72,7.94" stroke="#000" stroke-width="2.3"/>
<path d="M554.26,125.17 L554.26,125.17 L554.27,125.16 L554.31,125.13 L554.36,125.09 L554.43,125.03 L554.51,124.97 L554.61,124.88 L554.72,124.79 L554.85,124.68 L555.00,124.55 L555.16,124.42 L555.34,124.26 L555.53,124.10 L555.74,123.92 L555.96,123.72 L556.20,123.51 L556.46,123.29 L556.73,123.05 L557.02,122.80 L557.32,122.53 L557.63,122.24 L557.96,121.95 L558.31,121.63 L558.67,121.30 L559.05,120.96 L559.44,120.59 L559.85,120.22 L560.27,119.82 L560.71,119.42 L561.16,118.99 L561.63,118.55 L562.11,118.09 L562.61,117.61 L563.12,117.12 L563.64,116.61 L564.18,116.08 L564.74,115.54 L565.31,114.98 L565.90,114.40 L566.50,113.80 L567.11,113.18 L567.74,112.54 L568.39,111.89 L569.05,111.22 L569.72,110.53 L570.41,109.81 L571.12,109.08 L571.84,108.33 L572.57,107.56 L573.32,106.77 L574.08,105.96 L574.86,105.12 L575.66,104.27 L576.47,103.40 L577.29,102.50 L578.13,101.58 L578.99,100.64 L579.86,99.67 L580.75,98.69 L581.65,97.68 L582.56,96.64 L583.50,95.59 L584.44,94.50 L585.41,93.40 L586.39,92.27 L587.38,91.11 L588.39,89.93 L589.42,88.72 L590.46,87.48 L591.52,86.22 L592.59,84.93 L593.69,83.62 L594.79,82.27 L595.92,80.90 L597.06,79.50 L598.21,78.06 L599.39,76.60 L600.58,75.11 L601.79,73.59 L603.01,72.03 L604.25,70.45 L605.51,68.83 L606.79,67.17 L608.08,65.49 L609.39,63.77 L610.72,62.01 L612.07,60.22 L613.44,58.40 L614.82,56.53 L616.22,54.63 L617.64,52.69 L619.08,50.72 L620.54,48.70 L622.02,46.64 L623.51,44.54 L625.03,42.41 L626.57,40.22 L628.12,38.00 L629.70,35.73 L631.29,33.42 L632.91,31.06 L634.54,28.65 L636.20,26.20 L637.88,23.69 L639.58,21.14 L641.30,18.54 L643.04,15.89 L644.81,13.18 L646.59,10.42 L648.40,7.61 L650.24,4.74 L652.09,1.81 L653.97,-1.17 L655.87,-4.22" stroke="#ff0000"/>
<path d="M554.26,125.17 L554.27,125.16 L554.30,125.14 L554.35,125.10 L554.42,125.05 L554.50,124.98 L554.60,124.90 L554.71,124.81 L554.85,124.71 L555.00,124.59 L555.16,124.47 L555.35,124.32 L555.55,124.17 L555.77,124.00 L556.01,123.82 L556.27,123.63 L556.54,123.43 L556.83,123.21 L557.14,122.98 L557.47,122.74 L557.82,122.49 L558.19,122.22 L558.57,121.94 L558.98,121.65 L559.40,121.35 L559.84,121.03 L560.30,120.71 L560.78,120.37 L561.28,120.02 L561.80,119.65 L562.34,119.28 L562.90,118.89 L563.48,118.49 L564.08,118.08 L564.70,117.65 L565.35,117.22 L566.01,116.77 L566.69,116.31 L567.40,115.84 L568.12,115.35 L568.87,114.86 L569.64,114.35 L570.43,113.83 L571.24,113.30 L572.08,112.75 L572.94,112.20 L573.82,111.63 L574.72,111.05 L575.64,110.45 L576.59,109.85 L577.57,109.23 L578.56,108.60 L579.58,107.96 L580.62,107.31 L581.69,106.65 L582.78,105.97 L583.90,105.28 L585.04,104.58 L586.21,103.87 L587.40,103.14 L588.62,102.40 L589.86,101.65 L591.13,100.89 L592.42,100.12 L593.74,99.33 L595.09,98.53 L596.46,97.72 L597.87,96.90 L599.29,96.06 L600.75,95.21 L602.23,94.35 L603.74,93.48 L605.28,92.59 L606.85,91.70 L608.45,90.79 L610.08,89.86 L611.73,88.93 L613.42,87.98 L615.13,87.02 L616.88,86.04 L618.65,85.06 L620.46,84.06 L622.29,83.05 L624.16,82.02 L626.06,80.98 L627.99,79.93 L629.95,78.87 L631.95,77.79 L633.98,76.70 L636.04,75.60 L638.13,74.49 L640.26,73.36 L642.42,72.22 L644.62,71.06 L646.85,69.89 L649.11,68.71 L651.41,67.52 L653.75,66.31 L656.12,65.08" stroke="#ff0000"/>
</g>
<g font-family="Liberation Sans, sans-serif" font-size="12.2" fill="#333">
<text x="42.3" y="233.80" text-anchor="end">0</text>
<text x="42.3" y="204.24" text-anchor="end">1</text>
<text x="42.3" y="174.69" text-anchor="end">2</text>
<text x="42.3" y="145.13" text-anchor="end">3</text>
<text x="42.3" y="115.57" text-anchor="end">4</text>
<text x="42.3" y="86.01" text-anchor="end">5</text>
<text x="42.3" y="56.46" text-anchor="end">6</text>
<text x="42.3" y="26.90" text-anchor="end">7</text>
<text x="61.83" y="246.9" font-size="12.2">10</text><text x="76.29" y="240.4" font-size="9.4">-2</text>
<text x="150.86" y="246.9" font-size="12.2">10</text><text x="165.32" y="240.4" font-size="9.4">-1</text>
<text x="241.45" y="246.9" font-size="12.2">10</text><text x="255.92" y="240.4" font-size="9.4">0</text>
<text x="371.45" y="230.45" text-anchor="end">0</text>
<text x="371.45" y="196.78" text-anchor="end">0.5</text>
<text x="371.45" y="163.12" text-anchor="end">1</text>
<text x="371.45" y="129.45" text-anchor="end">1.5</text>
<text x="371.45" y="95.78" text-anchor="end">2</text>
<text x="371.45" y="62.12" text-anchor="end">2.5</text>
<text x="371.45" y="28.45" text-anchor="end">3</text>
<text x="375.55" y="239.2" text-anchor="middle">0</text>
<text x="413.63" y="239.2" text-anchor="middle">0.5</text>
<text x="451.71" y="239.2" text-anchor="middle">1</text>
<text x="489.79" y="239.2" text-anchor="middle">1.5</text>
<text x="527.86" y="239.2" text-anchor="middle">2</text>
<text x="565.94" y="239.2" text-anchor="middle">2.5</text>
<text x="604.02" y="239.2" text-anchor="middle">3</text>
<text x="642.10" y="239.2" text-anchor="middle">3.5</text>
</g>
<g font-family="Liberation Sans, sans-serif" font-size="12.7" fill="#111"><text x="21.0" y="14.4">(a)</text><text x="333.6" y="14.4">(b)</text></g>
<g transform="translate(250.8,121.2) rotate(38.5)" font-family="Liberation Serif, serif" font-size="12.4" fill="#444" text-anchor="middle"><text x="0" y="4.32" font-style="italic" font-size="13.2">S</text><text x="10.5" y="4.32" font-style="italic" font-size="13.2">L</text><text x="20.4" y="7.83" font-size="14.5">∞</text><path d="M30.5,-0.8h7.8M30.5,2.0h7.8" stroke="#444" stroke-width="0.85" fill="none"/><text x="45.0" y="4.29">1</text><text x="52.1" y="4.29">0</text><path d="M56.0,-4.40h7.0" stroke="#444" stroke-width="0.85" fill="none"/><text x="67.2" y="-1.26" font-size="9.3">1</text></g>
<g transform="translate(185.0,145.0) rotate(38.5)" font-family="Liberation Serif, serif" font-size="12.4" fill="#444" text-anchor="middle"><text x="0" y="4.32" font-style="italic" font-size="13.2">S</text><text x="10.5" y="4.32" font-style="italic" font-size="13.2">L</text><text x="20.4" y="7.83" font-size="14.5">∞</text><path d="M30.5,-0.8h7.8M30.5,2.0h7.8" stroke="#444" stroke-width="0.85" fill="none"/><text x="45.0" y="4.29">1</text><text x="52.1" y="4.29">0</text><path d="M56.0,-4.40h7.0" stroke="#444" stroke-width="0.85" fill="none"/><text x="67.2" y="-1.26" font-size="9.3">2</text></g>
<g transform="translate(113.3,162.5) rotate(36.6)" font-family="Liberation Serif, serif" font-size="12.4" fill="#444" text-anchor="middle"><text x="0" y="4.32" font-style="italic" font-size="13.2">S</text><text x="10.5" y="4.32" font-style="italic" font-size="13.2">L</text><text x="20.4" y="7.83" font-size="14.5">∞</text><path d="M30.5,-0.8h7.8M30.5,2.0h7.8" stroke="#444" stroke-width="0.85" fill="none"/><text x="45.0" y="4.29">1</text><text x="52.1" y="4.29">0</text><path d="M56.0,-4.40h7.0" stroke="#444" stroke-width="0.85" fill="none"/><text x="67.2" y="-1.26" font-size="9.3">3</text></g>
<g clip-path="url(#cb)"><g transform="translate(574.4,119.8) rotate(-11)" font-family="Liberation Serif, serif" font-size="12.0" fill="#444" text-anchor="middle"><text x="0" y="3.93" font-style="italic" font-size="12.0">S</text><text x="8.7" y="3.93" font-style="italic" font-size="12.0">L</text><text x="18.9" y="7.83" font-size="14.5">∞</text><path d="M29.700000000000003,-0.8h7.8M29.700000000000003,2.0h7.8" stroke="#444" stroke-width="0.85" fill="none"/><text x="45.0" y="4.16">1</text><text x="51.3" y="4.16">0</text><path d="M55.3,-3.30h7.0" stroke="#444" stroke-width="0.85" fill="none"/><text x="66.8" y="-0.16" font-size="9.3">1</text></g></g>
<g transform="translate(530.3,169.2) rotate(-10.5)" font-family="Liberation Serif, serif" font-size="12.0" fill="#444" text-anchor="middle"><text x="0" y="3.93" font-style="italic" font-size="12.0">S</text><text x="8.7" y="3.93" font-style="italic" font-size="12.0">L</text><text x="18.9" y="7.83" font-size="14.5">∞</text><path d="M29.700000000000003,-0.8h7.8M29.700000000000003,2.0h7.8" stroke="#444" stroke-width="0.85" fill="none"/><text x="45.0" y="4.16">1</text><text x="51.3" y="4.16">0</text><path d="M55.3,-4.30h7.0" stroke="#444" stroke-width="0.85" fill="none"/><text x="66.8" y="-1.16" font-size="9.3">2</text></g>
<g transform="translate(538.2,193.7) rotate(-3.5)" font-family="Liberation Serif, serif" font-size="12.0" fill="#444" text-anchor="middle"><text x="0" y="3.93" font-style="italic" font-size="12.0">S</text><text x="8.7" y="3.93" font-style="italic" font-size="12.0">L</text><text x="18.9" y="7.83" font-size="14.5">∞</text><path d="M29.700000000000003,-0.8h7.8M29.700000000000003,2.0h7.8" stroke="#444" stroke-width="0.85" fill="none"/><text x="45.0" y="4.16">1</text><text x="51.3" y="4.16">0</text><path d="M55.3,-3.30h7.0" stroke="#444" stroke-width="0.85" fill="none"/><text x="66.8" y="-0.16" font-size="9.3">3</text></g>
<g font-family="Liberation Serif, serif" font-size="21" fill="#383838"><text x="164.6" y="267.2" textLength="15.0" lengthAdjust="spacingAndGlyphs">Δ</text><text x="180.8" y="267.2" font-style="italic" textLength="13.2" lengthAdjust="spacingAndGlyphs">L</text></g>
<text font-family="Liberation Serif, serif" font-size="21" font-style="italic" fill="#383838" transform="translate(21.4,134.8) rotate(-90)" textLength="13" lengthAdjust="spacingAndGlyphs">L</text>
<text font-family="Liberation Serif, serif" font-size="22.5" font-style="italic" fill="#383838" transform="translate(346.1,136.2) rotate(-90)" textLength="14.6" lengthAdjust="spacingAndGlyphs">U</text>
<g font-family="Liberation Serif, serif" font-size="21" fill="#383838"><text x="447.8" y="266.6" textLength="15.0" lengthAdjust="spacingAndGlyphs">Δ</text><text x="464.3" y="266.6" font-style="italic" textLength="13.4" lengthAdjust="spacingAndGlyphs">L</text><path d="M478.5,271.9L486.1,250.7" stroke="#383838" stroke-width="0.95" fill="none"/><text x="492.5" y="266.6" text-anchor="middle">(</text><text x="501.8" y="266.6" text-anchor="middle" font-style="italic" font-size="21.5">S</text><text x="516.4" y="266.6" text-anchor="middle" font-style="italic" font-size="21.5">L</text><text x="530.3" y="271.6" font-size="19.5" text-anchor="middle">∞</text><text x="542.8" y="266.6" text-anchor="middle">)</text><text x="546.6" y="259.8" font-size="13.4" textLength="21.5" lengthAdjust="spacingAndGlyphs">1/2</text></g>
</svg></body></html>
